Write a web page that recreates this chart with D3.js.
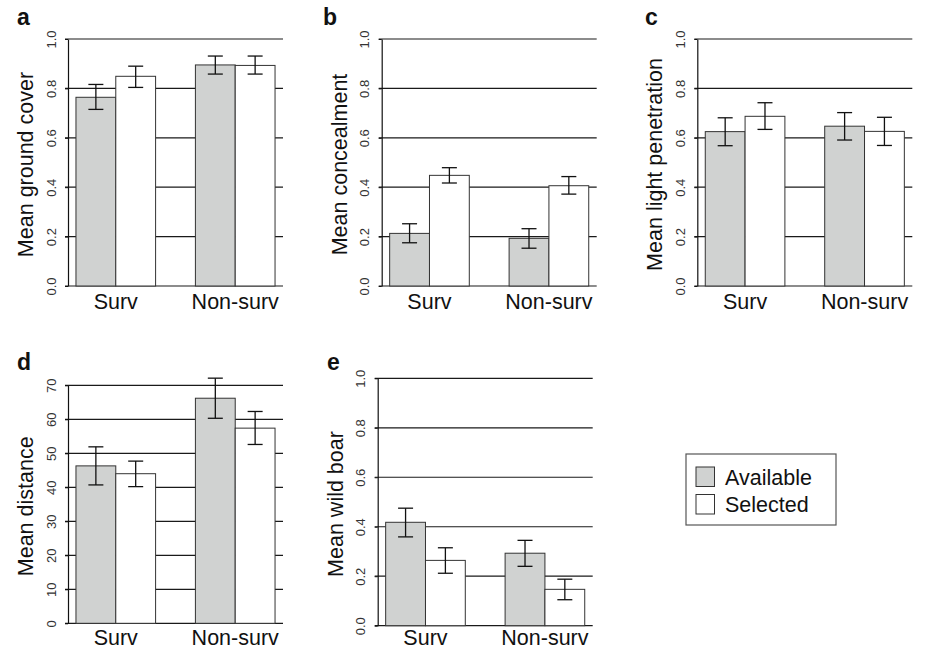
<!DOCTYPE html>
<html>
<head>
<meta charset="utf-8">
<script src="https://cdn.jsdelivr.net/npm/d3@7"></script>
<style>
  body { margin: 0; background: #fff; }
  svg { display: block; font-family: "Liberation Sans", Arial, sans-serif; }
</style>
</head>
<body>
<div id="chart"></div>
<script>
const width = 928, height = 649;

// categories
const groups = ["Surv", "Non-surv"];
const seriesNames = ["Available", "Selected"];

// values in order: Surv-Available, Surv-Selected, Non-surv-Available, Non-surv-Selected
const coverMean = [0.764, 0.849, 0.895, 0.893];
const coverLo   = [0.715, 0.804, 0.858, 0.858];
const coverHi   = [0.816, 0.890, 0.931, 0.931];

const concealMean = [0.213, 0.448, 0.193, 0.406];
const concealLo   = [0.175, 0.417, 0.153, 0.372];
const concealHi   = [0.252, 0.479, 0.232, 0.443];

const lightMean = [0.625, 0.687, 0.647, 0.626];
const lightLo   = [0.568, 0.634, 0.591, 0.569];
const lightHi   = [0.681, 0.742, 0.702, 0.683];

const distMean = [46.3, 44.0, 66.2, 57.4];
const distLo   = [40.7, 40.2, 60.3, 52.6];
const distHi   = [51.9, 47.7, 72.1, 62.3];

const boarMean = [0.418, 0.264, 0.293, 0.147];
const boarLo   = [0.359, 0.212, 0.240, 0.105];
const boarHi   = [0.475, 0.315, 0.345, 0.188];

const propTicks = [0, 0.2, 0.4, 0.6, 0.8, 1.0];
const distTicks = [0, 10, 20, 30, 40, 50, 60, 70];

const fills = ["#d0d2d1", "#ffffff"];

let svg = d3.select("#chart")
    .append("svg")
    .attr("width", width)
    .attr("height", height);

// panel layout: left axis x, top and bottom of plot region
let panels = [
    {letter: "a", lx: 17, ly: 25, x: 68, top: 39, bottom: 286, label: "Mean ground cover",
     mean: coverMean, lo: coverLo, hi: coverHi, ticks: propTicks, fmt: d3.format(".1f")},
    {letter: "b", lx: 323, ly: 25, x: 381.7, top: 39, bottom: 286, label: "Mean concealment",
     mean: concealMean, lo: concealLo, hi: concealHi, ticks: propTicks, fmt: d3.format(".1f")},
    {letter: "c", lx: 645, ly: 25, x: 697.3, top: 39, bottom: 286, label: "Mean light penetration",
     mean: lightMean, lo: lightLo, hi: lightHi, ticks: propTicks, fmt: d3.format(".1f")},
    {letter: "d", lx: 17, ly: 370, x: 68, top: 385.3, bottom: 623.3, label: "Mean distance",
     mean: distMean, lo: distLo, hi: distHi, ticks: distTicks, fmt: d3.format("d")},
    {letter: "e", lx: 327, ly: 370, x: 377.7, top: 378.3, bottom: 625.7, label: "Mean wild boar",
     mean: boarMean, lo: boarLo, hi: boarHi, ticks: propTicks, fmt: d3.format(".1f")}
];

const plotW = 215;

panels.forEach(function (p) {
    let g = svg.append("g").attr("transform", "translate(" + p.x + ",0)");

    let y = d3.scaleLinear()
        .domain([0, d3.max(p.ticks)])
        .range([p.bottom, p.top]);

    // R style barplot units: bars at 1..3 and 4..6, padded 4%
    let x = d3.scaleLinear()
        .domain([0.8, 6.2])
        .range([0, plotW]);

    // horizontal lines behind the bars
    g.append("g")
        .selectAll("line")
        .data(p.ticks)
        .enter()
        .append("line")
        .attr("x1", -3)
        .attr("x2", plotW)
        .attr("y1", d => y(d))
        .attr("y2", d => y(d))
        .attr("stroke", "#1a1a1a")
        .attr("stroke-width", 1.2);

    let axis = g.append("g")
        .call(d3.axisLeft(y).tickValues(p.ticks).tickFormat(p.fmt).tickSizeInner(3).tickSizeOuter(0));
    axis.select(".domain").attr("stroke", "#111").attr("stroke-width", 1.2);
    axis.selectAll(".tick line").attr("stroke", "#111");
    axis.selectAll("text")
        .attr("x", null)
        .attr("dy", null)
        .attr("text-anchor", "middle")
        .attr("transform", "translate(-12.5,0) rotate(-90)")
        .attr("font-size", 13)
        .attr("font-family", "Liberation Sans, Arial, sans-serif")
        .attr("fill", "#333");

    let bars = p.mean.map((m, i) => ({
        gi: Math.floor(i / 2), si: i % 2, mean: m, lo: p.lo[i], hi: p.hi[i]
    }));
    bars.forEach(b => { b.x0 = 1 + b.gi * 3 + b.si; });

    g.append("g")
        .selectAll("rect")
        .data(bars)
        .enter()
        .append("rect")
        .attr("x", d => x(d.x0))
        .attr("width", d => x(d.x0 + 1) - x(d.x0))
        .attr("y", d => y(d.mean))
        .attr("height", d => y(0) - y(d.mean))
        .attr("fill", d => fills[d.si])
        .attr("stroke", "#333")
        .attr("stroke-width", 1);

    // error bars
    let eb = g.append("g").selectAll("g")
        .data(bars)
        .enter()
        .append("g")
        .attr("stroke", "#111")
        .attr("stroke-width", 1.3);
    eb.append("line")
        .attr("x1", d => x(d.x0 + 0.5)).attr("x2", d => x(d.x0 + 0.5))
        .attr("y1", d => y(d.lo)).attr("y2", d => y(d.hi));
    eb.append("line")
        .attr("x1", d => x(d.x0 + 0.5) - 7.5).attr("x2", d => x(d.x0 + 0.5) + 7.5)
        .attr("y1", d => y(d.lo)).attr("y2", d => y(d.lo));
    eb.append("line")
        .attr("x1", d => x(d.x0 + 0.5) - 7.5).attr("x2", d => x(d.x0 + 0.5) + 7.5)
        .attr("y1", d => y(d.hi)).attr("y2", d => y(d.hi));

    // group labels
    g.append("g")
        .selectAll("text")
        .data(groups)
        .enter()
        .append("text")
        .attr("x", (d, i) => x(2 + i * 3))
        .attr("y", Math.min(p.bottom + 22.5, height - 4))
        .attr("text-anchor", "middle")
        .attr("font-size", 21.5)
        .attr("fill", "#111")
        .text(d => d);

    // y label
    g.append("text")
        .attr("transform", "translate(-35," + ((p.top + p.bottom) / 2 + 2) + ") rotate(-90)")
        .attr("text-anchor", "middle")
        .attr("font-size", 21.5)
        .attr("fill", "#111")
        .text(p.label);

    // panel letter
    svg.append("text")
        .attr("x", p.lx)
        .attr("y", p.ly)
        .attr("font-size", 23)
        .attr("font-weight", "bold")
        .attr("fill", "#111")
        .text(p.letter);
});

// legend
let legend = svg.append("g").attr("transform", "translate(686,454)");
legend.append("rect")
    .attr("width", 150)
    .attr("height", 71)
    .attr("fill", "#fff")
    .attr("stroke", "#555")
    .attr("stroke-width", 1.2);
let items = legend.selectAll("g.item")
    .data(seriesNames)
    .enter()
    .append("g")
    .attr("class", "item")
    .attr("transform", (d, i) => "translate(10," + (13 + i * 27.5) + ")");
items.append("rect")
    .attr("width", 18.5)
    .attr("height", 19.5)
    .attr("fill", (d, i) => fills[i])
    .attr("stroke", "#333")
    .attr("stroke-width", 1);
items.append("text")
    .attr("x", 29)
    .attr("y", 17.5)
    .attr("font-size", 21.5)
    .attr("fill", "#111")
    .text(d => d);
</script>
</body>
</html>
